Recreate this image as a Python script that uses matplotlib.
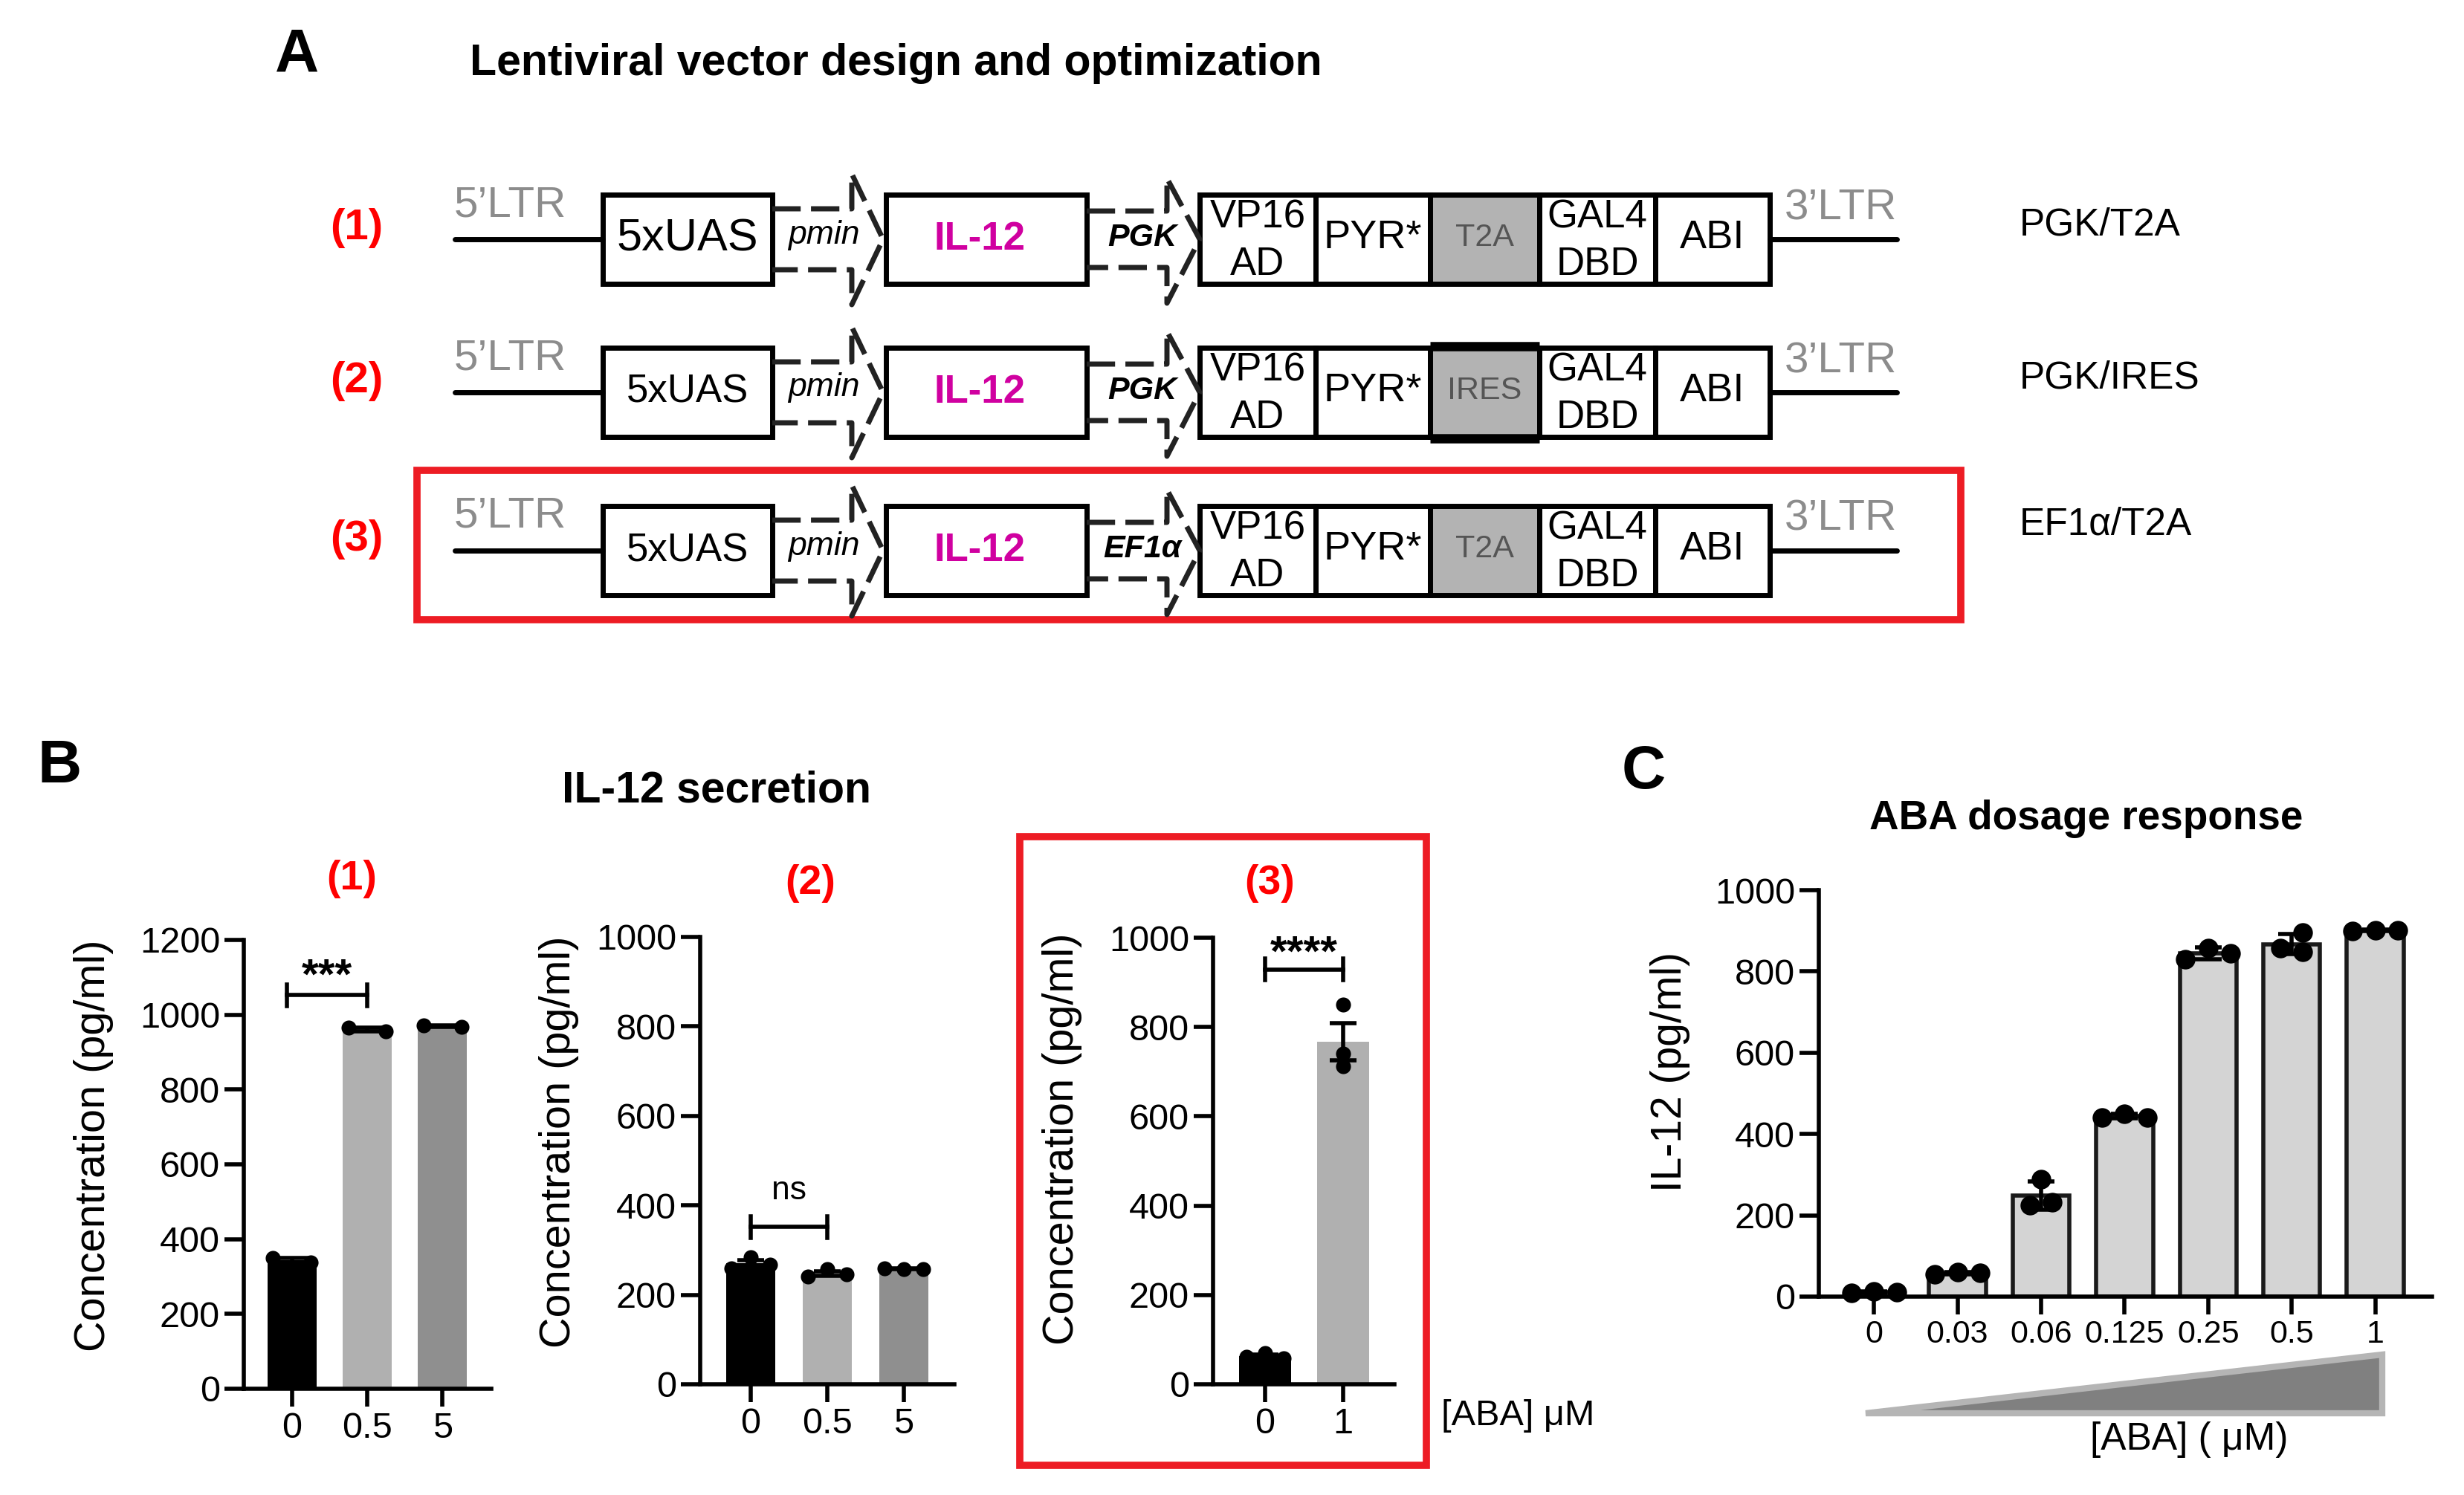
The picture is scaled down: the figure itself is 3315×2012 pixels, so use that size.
import numpy as np
import matplotlib.pyplot as plt
from matplotlib.patches import Rectangle, Polygon

plt.rcParams['font.family'] = ['Liberation Sans', 'DejaVu Sans']

# ---- data ----
construct_names = ["PGK/T2A", "PGK/IRES", "EF1α/T2A"]
construct_ids = ["(1)", "(2)", "(3)"]
promoters = ["PGK", "PGK", "EF1α"]
linkers = ["T2A", "IRES", "T2A"]

b1_doses = ["0", "0.5", "5"]
b1_reps = [[338, 350], [956, 966], [968, 972]]
b2_doses = ["0", "0.5", "5"]
b2_reps = [[284, 259, 267], [257, 241, 246], [257, 259, 257]]
b3_doses = ["0", "1"]
b3_reps = [[70, 62, 58], [850, 740, 712]]
sig_labels = ["***", "ns", "****"]
sig_heights = [1052, 352, 929]

c_doses = ["0", "0.03", "0.06", "0.125", "0.25", "0.5", "1"]
c_reps = [[12, 9, 11], [60, 54, 58], [289, 233, 225], [450, 441, 441],
          [858, 830, 845], [895, 848, 858], [902, 900, 902]]

W, H = 3315, 2012
RED = '#ff0000'
BOXRED = '#ed1c24'
MAG = '#d000a0'
LTR = '#8c8c8c'

fig = plt.figure(figsize=(W / 100, H / 100), dpi=100)
ov = fig.add_axes([0, 0, 1, 1])
ov.set_xlim(0, W)
ov.set_ylim(H, 0)
ov.axis('off')


def px_axes(x0, y0, x1, y1):
    ax = fig.add_axes([x0 / W, 1 - y1 / H, (x1 - x0) / W, (y1 - y0) / H])
    ax.set_facecolor('none')
    return ax


# ---- panel A: vector diagram ----
ov.text(400, 74, "A", fontsize=59, fontweight='bold', ha='center', va='center')
ov.text(1205, 85, "Lentiviral vector design and optimization", fontsize=42.5,
        fontweight='bold', ha='center', va='center')

row_y = [322, 528, 741]
uas_size = [44, 38, 38]
hh = 60
lw = 5
cass = [1614, 1770, 1924, 2071, 2227, 2381]

for i, c in enumerate(row_y):
    ov.text(480, c - 15, construct_ids[i], color=RED, fontsize=42, fontweight='bold',
            ha='center', va='center')
    ov.plot([612, 811], [c, c], color='black', lw=lw, solid_capstyle='round')
    ov.text(686, c - 46, "5’LTR", color=LTR, fontsize=42, ha='center', va='center')
    ov.add_patch(Rectangle((811, c - hh), 228, 2 * hh, fill=False, ec='black', lw=lw))
    ov.text(925, c, "5xUAS", fontsize=uas_size[i], ha='center', va='center')
    # pmin arrow
    ov.plot([1039, 1146, 1146, 1188, 1146, 1146, 1039],
            [c - 41, c - 41, c - 88, c, c + 88, c + 41, c + 41],
            color='#222222', lw=lw, ls=(0, (5.5, 2)))
    ov.text(1108, c - 6, "pmin", fontsize=32, style='italic', ha='center', va='center')
    ov.add_patch(Rectangle((1192, c - hh), 270, 2 * hh, fill=False, ec='black', lw=lw))
    ov.text(1318, c, "IL-12", color=MAG, fontsize=38, fontweight='bold', ha='center', va='center')
    # second promoter arrow
    ov.plot([1462, 1570, 1570, 1614, 1570, 1570, 1462],
            [c - 38, c - 38, c - 82, c, c + 86, c + 38, c + 38],
            color='#222222', lw=lw, ls=(0, (5.5, 2)))
    ov.text(1537, c - 2, promoters[i], fontsize=31, fontweight='bold', style='italic',
            ha='center', va='center')
    # cassette boxes
    for j in range(5):
        x0, x1 = cass[j], cass[j + 1]
        if j == 2:
            ov.add_patch(Rectangle((x0, c - hh), x1 - x0, 2 * hh, fc='#b3b3b3', ec='black', lw=lw))
            if linkers[i] == "IRES":
                ov.plot([x0, x1], [c - hh - 2, c - hh - 2], color='black', lw=9, solid_capstyle='butt')
                ov.plot([x0, x1], [c + hh + 2, c + hh + 2], color='black', lw=9, solid_capstyle='butt')
        else:
            ov.add_patch(Rectangle((x0, c - hh), x1 - x0, 2 * hh, fill=False, ec='black', lw=lw))
    xm = [(cass[j] + cass[j + 1]) / 2 for j in range(5)]
    ov.text(xm[0], c - 30, "VP16", fontsize=38, ha='center', va='center')
    ov.text(xm[0], c + 34, "AD", fontsize=38, ha='center', va='center')
    ov.text(xm[1], c - 2, "PYR*", fontsize=39, ha='center', va='center')
    ov.text(xm[2], c - 2, linkers[i], fontsize=31, color='#555555', ha='center', va='center')
    ov.text(xm[3], c - 30, "GAL4", fontsize=38, ha='center', va='center')
    ov.text(xm[3], c + 34, "DBD", fontsize=38, ha='center', va='center')
    ov.text(xm[4], c - 2, "ABI", fontsize=39, ha='center', va='center')
    ov.plot([2381, 2552], [c, c], color='black', lw=lw, solid_capstyle='round')
    ov.text(2476, c - 42, "3’LTR", color=LTR, fontsize=42, ha='center', va='center')
    ov.text(2717, c - (35 if i == 2 else 19), construct_names[i], fontsize=37,
            ha='left', va='center')

ov.add_patch(Rectangle((561, 633), 2638 - 561, 834 - 633, fill=False, ec=BOXRED, lw=7))

# ---- panel B / C bar charts ----
ov.text(80, 1032, "B", fontsize=59, fontweight='bold', ha='center', va='center')
ov.text(964, 1064, "IL-12 secretion", fontsize=42.5, fontweight='bold', ha='center', va='center')
ov.text(2211, 1040, "C", fontsize=59, fontweight='bold', ha='center', va='center')
ov.text(2807, 1102, "ABA dosage response", fontsize=39.5, fontweight='bold',
        ha='center', va='center')


def swarm(vals, dy, step):
    # greedy placement, then centre each cluster of overlapping dots
    placed = []
    offs = []
    for v in vals:
        for cand in [0, -step, step, -2 * step, 2 * step]:
            if all(abs(v - pv) > dy or abs(cand - po) > step * 0.5 for pv, po in placed):
                break
        placed.append((v, cand))
        offs.append(cand)
    offs = np.array(offs, dtype=float)
    vals = np.asarray(vals, dtype=float)
    label = list(range(len(vals)))
    for a in range(len(vals)):
        for b in range(len(vals)):
            if abs(vals[a] - vals[b]) <= dy:
                la, lb = label[a], label[b]
                label = [la if l == lb else l for l in label]
    for g in set(label):
        idx = [k for k in range(len(vals)) if label[k] == g]
        o = offs[idx]
        offs[idx] = o - (o.max() + o.min()) / 2
    return offs


def draw_bars(ax, labels, reps, colors, err='sem', ec='none', elw=0, dot=14.5, dy=35,
              step=0.22, width=0.65, cap=13):
    x = np.arange(len(labels))
    means = np.array([np.mean(r) for r in reps])
    sds = np.array([np.std(r, ddof=1) for r in reps])
    ns = np.array([len(r) for r in reps])
    errs = sds / np.sqrt(ns) if err == 'sem' else sds
    ax.bar(x, means, width=width, color=colors, edgecolor=ec, linewidth=elw, zorder=1)
    ax.errorbar(x, means, yerr=errs, fmt='none', ecolor='black', elinewidth=4,
                capsize=cap, capthick=4, zorder=3)
    for xi, r in zip(x, reps):
        ax.scatter(xi + swarm(r, dy, step), r, s=dot ** 2, color='black', zorder=4,
                   clip_on=False, linewidths=0)
    ax.set_xticks(x)
    ax.set_xticklabels(labels)


def style(ax, xlim, ylim, step, xsize=35):
    ax.set_xlim(*xlim)
    ax.set_ylim(*ylim)
    ax.set_yticks(np.arange(0, ylim[1] + 1, step))
    for s in ['top', 'right']:
        ax.spines[s].set_visible(False)
    for s in ['left', 'bottom']:
        ax.spines[s].set_linewidth(4)
        ax.spines[s].set_capstyle('projecting')
    ax.tick_params(axis='y', width=4, length=19, labelsize=35, pad=4)
    ax.tick_params(axis='x', width=4, length=17, labelsize=xsize, pad=5)


def sig(ax, x0, x1, y, label, ty, size):
    ax.plot([x0, x1], [y, y], color='black', lw=4, zorder=5)
    for xx in (x0, x1):
        ax.plot([xx, xx], [y - 0.024 * ax.get_ylim()[1], y + 0.024 * ax.get_ylim()[1]],
                color='black', lw=4, zorder=5)
    ax.text((x0 + x1) / 2, ty, label, fontsize=size, ha='center', va='center',
            fontweight='bold' if '*' in label else 'normal')


bar_cols = ['black', '#b0b0b0', '#8f8f8f']

ax1 = px_axes(328, 1265, 661, 1869)
draw_bars(ax1, b1_doses, b1_reps, bar_cols, dy=40, step=0.5, cap=18)
style(ax1, (-0.64, 2.65), (0, 1200), 200)
sig(ax1, -0.07, 1, sig_heights[0], sig_labels[0], 1100, 42)
ov.text(126, 1542, "Concentration (pg/ml)", fontsize=41.5, rotation=90, ha='center', va='center')
ov.text(473, 1183, construct_ids[0], color=RED, fontsize=40, fontweight='bold', ha='center', va='center')

ax2 = px_axes(942, 1261, 1284, 1863)
draw_bars(ax2, b2_doses, b2_reps, bar_cols, dy=33, step=0.25)
style(ax2, (-0.66, 2.66), (0, 1000), 200)
sig(ax2, 0, 1, sig_heights[1], sig_labels[1], 432, 32)
ov.text(752, 1537, "Concentration (pg/ml)", fontsize=41.5, rotation=90, ha='center', va='center')
ov.text(1090, 1189, construct_ids[1], color=RED, fontsize=40, fontweight='bold', ha='center', va='center')

ax3 = px_axes(1632, 1262, 1876, 1863)
draw_bars(ax3, b3_doses, b3_reps, bar_cols[:2], dy=25, step=0.24, width=0.67)
style(ax3, (-0.667, 1.657), (0, 1000), 200)
sig(ax3, 0, 1, sig_heights[2], sig_labels[2], 962, 42)
ov.text(1429, 1533, "Concentration (pg/ml)", fontsize=41.5, rotation=90, ha='center', va='center')
ov.text(1708, 1189, construct_ids[2], color=RED, fontsize=40, fontweight='bold', ha='center', va='center')
ov.text(2042, 1906, "[ABA] μM", fontsize=35, ha='center', va='center')
ov.add_patch(Rectangle((1372, 1126), 1919 - 1372, 1972 - 1126, fill=False, ec=BOXRED, lw=7))

axc = px_axes(2447, 1198, 3272, 1745)
draw_bars(axc, c_doses, c_reps, '#d4d4d4', err='sd', ec='#1a1a1a', elw=4, dot=19, dy=45,
          step=0.27, width=0.68)
style(axc, (-0.66, 6.68), (0, 1000), 200, xsize=31)
ov.text(2247, 1442, "IL-12 (pg/ml)", fontsize=41, rotation=90, ha='center', va='center')
ov.add_patch(Polygon([(2510, 1902), (3205, 1823), (3205, 1902)], closed=True,
                     fc='#808080', ec='#b5b5b5', lw=6))
ov.text(2945, 1937, "[ABA] ( μM)", fontsize=37, ha='center', va='center')

fig.savefig("out.png", dpi=100)
